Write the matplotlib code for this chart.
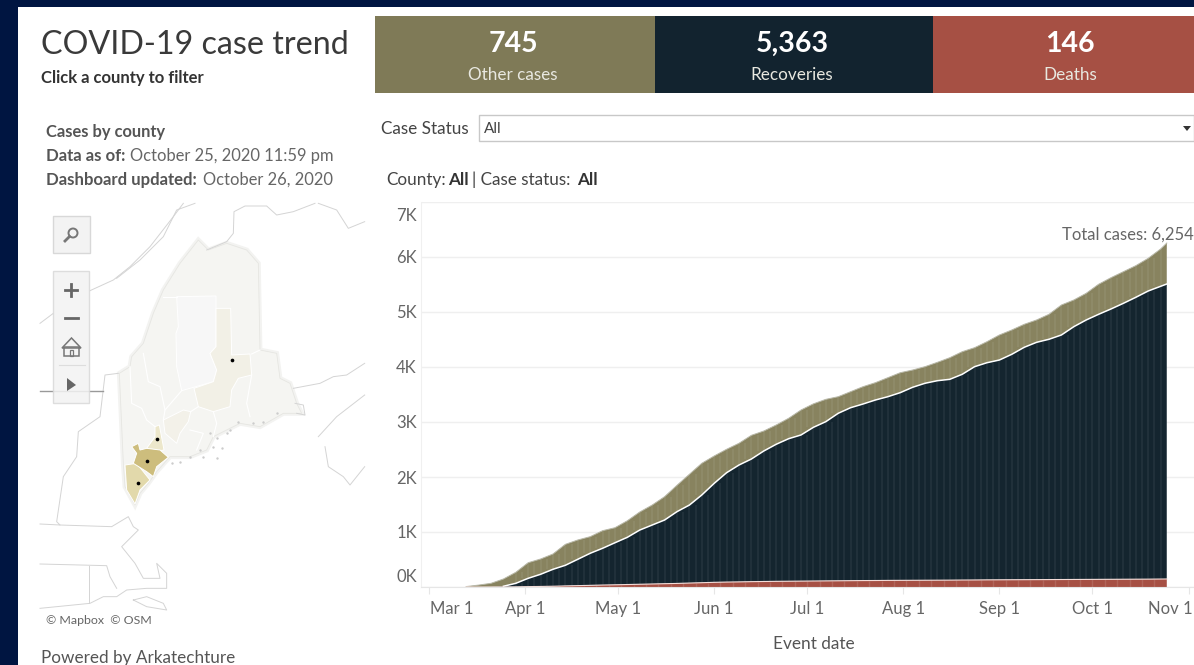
import numpy as np
import pandas as pd
import matplotlib
matplotlib.use("Agg")
import matplotlib.pyplot as plt
import matplotlib.dates as mdates
from matplotlib.patches import Rectangle, Polygon, Circle
from matplotlib.transforms import ScaledTranslation

plt.rcParams['font.family'] = ['Lato', 'DejaVu Sans']

W, H = 1194, 665

# values, one reading every 4 days plus the last day
event_dates = list(pd.date_range('2020-03-13', '2020-10-23', freq='4D')) + [pd.Timestamp('2020-10-25')]
total_cases = [8, 35, 67, 145, 267, 442, 509, 600, 776, 855, 915, 1024, 1078, 1205, 1364, 1490,
               1642, 1849, 2049, 2249, 2382, 2504, 2613, 2758, 2836, 2945, 3067, 3218, 3330, 3412,
               3460, 3551, 3642, 3715, 3805, 3896, 3945, 4006, 4085, 4169, 4278, 4351, 4460, 4582,
               4673, 4776, 4855, 4958, 5127, 5218, 5340, 5504, 5624, 5733, 5842, 5976, 6145, 6254]
recov_plus_deaths = [0, 0, 2, 13, 67, 158, 231, 322, 395, 504, 613, 704, 805, 904, 1036, 1127,
                     1218, 1370, 1490, 1673, 1885, 2078, 2218, 2327, 2473, 2595, 2696, 2764, 2903, 3006,
                     3158, 3260, 3327, 3400, 3460, 3533, 3631, 3704, 3751, 3776, 3867, 4006, 4078, 4127,
                     4231, 4358, 4449, 4504, 4582, 4733, 4855, 4958, 5055, 5158, 5267, 5382, 5467, 5509]
deaths = [0, 0, 0, 1, 3, 7, 10, 14, 20, 25, 30, 36, 40, 45, 50, 55,
          60, 65, 72, 78, 85, 90, 93, 97, 100, 103, 105, 107, 109, 111,
          113, 115, 117, 118, 120, 121, 122, 123, 124, 125, 127, 128, 130, 131,
          132, 133, 134, 135, 136, 137, 138, 139, 140, 141, 142, 143, 145, 146]

y_ticks = [0, 1000, 2000, 3000, 4000, 5000, 6000, 7000]
y_labels = ['0K', '1K', '2K', '3K', '4K', '5K', '6K', '7K']
x_ticks = ['2020-03-01', '2020-04-01', '2020-05-01', '2020-06-01', '2020-07-01',
           '2020-08-01', '2020-09-01', '2020-10-01', '2020-11-01']
x_labels = ['Mar 1', 'Apr 1', 'May 1', 'Jun 1', 'Jul 1', 'Aug 1', 'Sep 1', 'Oct 1', 'Nov 1']

kpi_values = ['745', '5,363', '146']
kpi_names = ['Other cases', 'Recoveries', 'Deaths']

# map shapes, in pixels of a 3x crop that starts at (0, 200)
maine = [(405, 915), (375, 860), (370, 790), (358, 520), (390, 500), (395, 470), (430, 430), (460, 340),
         (490, 270), (540, 190), (595, 120), (625, 150), (680, 130), (740, 150), (775, 190), (780, 450),
         (830, 460), (840, 535), (870, 550), (890, 610), (905, 640), (850, 640), (780, 680), (720, 670),
         (640, 710), (620, 750), (570, 770), (510, 770), (470, 815), (445, 850), (420, 880)]
counties = [
    ([(530, 290), (648, 288), (648, 440), (630, 460), (650, 510), (640, 545), (545, 572), (530, 500),
      (528, 400), (535, 380)], '#f7f7f7'),
    ([(648, 325), (692, 325), (695, 465), (750, 462), (755, 525), (715, 535), (695, 570), (690, 620),
      (640, 635), (595, 620), (582, 565), (640, 545), (650, 510), (630, 460), (648, 440)], '#f2f0e6'),
    ([(490, 660), (550, 630), (572, 635), (565, 665), (540, 700), (530, 730), (495, 700)], '#f3f1e9'),
    ([(465, 680), (478, 675), (492, 750), (480, 752), (440, 745), (465, 710)], '#ece7cb'),
    ([(375, 795), (410, 790), (450, 840), (420, 870), (405, 912), (380, 870)], '#e2d9ab'),
    ([(395, 740), (415, 730), (420, 750), (440, 745), (480, 750), (505, 772), (470, 800), (460, 830),
      (440, 815), (400, 790), (410, 760)], '#cdbd7d'),
]
county_lines = [
    [(430, 460), (445, 545), (480, 560), (495, 630), (490, 660)],
    [(390, 500), (395, 610), (425, 625), (440, 660), (465, 680)],
    [(495, 630), (545, 572)],
    [(572, 635), (595, 620)],
    [(640, 635), (650, 670), (640, 710)],
    [(755, 525), (740, 610), (750, 650)],
    [(570, 690), (610, 700), (590, 750)],
    [(490, 290), (530, 290)],
    [(780, 450), (755, 462)],
]
border_lines = [
    [(620, 150), (680, 125), (700, 100), (702, 35), (735, 18), (800, 18), (830, 45), (880, 35), (945, 10)],
    [(955, 10), (1010, 30), (1045, 85), (1094, 65)],
    [(120, 370), (160, 340)],
    [(270, 272), (340, 240), (390, 200), (450, 140), (520, 50), (550, 10)],
    [(350, 235), (420, 180), (490, 110), (530, 30), (585, 10)],
    [(355, 520), (315, 525), (300, 650), (235, 695), (230, 770), (190, 830), (170, 965), (180, 975), (120, 972)],
    [(180, 975), (335, 980), (385, 950), (400, 980), (415, 990), (365, 1040), (405, 1090), (430, 1135),
     (480, 1135), (470, 1090), (500, 1120), (500, 1165), (440, 1165), (380, 1170), (350, 1190), (310, 1190),
     (270, 1210), (120, 1225)],
    [(120, 1092), (320, 1097), (330, 1130), (350, 1165)],
    [(268, 1097), (268, 1210)],
    [(400, 1200), (440, 1190), (490, 1210), (500, 1230), (440, 1220), (400, 1200)],
    [(880, 565), (960, 550), (1000, 530), (1040, 525), (1094, 490)],
    [(955, 710), (1010, 650), (1094, 585)],
    [(975, 740), (985, 800), (1030, 830), (1050, 855), (1094, 800)],
    [(885, 610), (910, 615), (915, 645), (890, 640)],
]
vermont_line = [(120, 572), (310, 572)]
county_dots = [(470, 718), (442, 782), (414, 850), (696, 481)]
islands = [(630, 700), (650, 715), (680, 700), (715, 665), (690, 690), (640, 740), (665, 745), (600, 750),
           (570, 770), (540, 785), (515, 790), (610, 770), (650, 775), (760, 670), (790, 665), (830, 640)]


def mp(points):
    return [(x / 3, 200 + y / 3) for x, y in points]


fig = plt.figure(figsize=(W / 100, H / 100), dpi=100, facecolor='#001541')

# everything around the chart sits on one axes in pixel coordinates
bg = fig.add_axes([0, 0, 1, 1])
bg.set_xlim(0, W)
bg.set_ylim(H, 0)
bg.axis('off')
bg.add_patch(Rectangle((18, 7), W - 18, H - 7, fc='white', ec='none'))

for (x0, x1), c, mid, val, name in zip([(375, 655), (655, 933), (933, W)], ['#7f7a57', '#12232f', '#a65044'],
                                       [513, 792, 1070], kpi_values, kpi_names):
    bg.add_patch(Rectangle((x0, 16), x1 - x0, 77, fc=c, ec='none'))
    bg.text(mid, 44, val, color='white', fontsize=20.5, weight='bold', ha='center', va='center')
    bg.text(mid, 75, name, color='#e8e8e0', fontsize=12.3, ha='center', va='center')

bg.text(41, 45, 'COVID-19 case trend', color='#3a3a3a', fontsize=23.2, va='center')
bg.text(41, 78, 'Click a county to filter', color='#333333', fontsize=12, weight='bold', va='center')
bg.text(46, 132, 'Cases by county', color='#555555', fontsize=11.9, weight='bold', va='center')
bg.text(46, 156, 'Data as of:', color='#555555', fontsize=12.1, weight='bold', va='center')
bg.text(130, 156, 'October 25, 2020 11:59 pm', color='#666666', fontsize=11.9, va='center')
bg.text(46, 180, 'Dashboard updated:', color='#555555', fontsize=12.1, weight='bold', va='center')
bg.text(203, 180, 'October 26, 2020', color='#666666', fontsize=11.9, va='center')
bg.text(41, 658, 'Powered by Arkatechture', color='#555555', fontsize=12.3, va='center')

bg.text(381, 129, 'Case Status', color='#444444', fontsize=12.3, va='center')
bg.add_patch(Rectangle((479, 115), W - 479, 26, fc='white', ec='#c8c8c8', lw=1))
bg.text(484, 129, 'All', color='#444444', fontsize=11, va='center')
bg.add_patch(Polygon([(1183, 126), (1191, 126), (1187, 131)], fc='#333333', ec='none'))
bg.text(386, 180, 'County:', color='#444444', fontsize=12.3, va='center')
bg.text(448, 180, 'All', color='#333333', fontsize=12.3, weight='bold', va='center')
bg.text(472, 180, '| Case status:', color='#444444', fontsize=12.3, va='center')
bg.text(577, 180, 'All', color='#333333', fontsize=12.3, weight='bold', va='center')

# map
for line in border_lines:
    xy = np.array(mp(line))
    bg.plot(xy[:, 0], xy[:, 1], color='#d4d4d4', lw=0.7)
xy = np.array(mp(vermont_line))
bg.plot(xy[:, 0], xy[:, 1], color='#999999', lw=1)
bg.add_patch(Polygon(mp(maine), fc='none', ec='#f3f3f1', lw=3.5))
bg.add_patch(Polygon(mp(maine), fc='#f5f5f2', ec='#e6e6e2', lw=0.6))
for shape, c in counties:
    bg.add_patch(Polygon(mp(shape), fc=c, ec='white', lw=0.7))
for line in county_lines:
    xy = np.array(mp(line))
    bg.plot(xy[:, 0], xy[:, 1], color='white', lw=0.8)
xy = np.array(mp(islands))
bg.scatter(xy[:, 0], xy[:, 1], s=3, color='#cccccc', lw=0)
xy = np.array(mp(county_dots))
bg.scatter(xy[:, 0], xy[:, 1], s=7, color='black', lw=0, zorder=5)

# map controls
bg.add_patch(Rectangle((53, 216), 37, 37, fc='#f3f3f3', ec='#d8d8d8', lw=1, zorder=6))
bg.add_patch(Circle((73, 233), 4.5, fc='none', ec='#777777', lw=1.4, zorder=7))
bg.plot([69.5, 65], [236.5, 241], color='#777777', lw=2, zorder=7)
bg.add_patch(Rectangle((53, 271), 36, 132, fc='#f3f3f3', ec='#d8d8d8', lw=1, alpha=0.85, zorder=6))
bg.plot([71, 71], [284, 296], color='#666666', lw=2, zorder=7)
bg.plot([65, 77], [290, 290], color='#666666', lw=2, zorder=7)
bg.plot([65, 78], [318, 318], color='#666666', lw=2, zorder=7)
bg.add_patch(Polygon([(62, 348), (71.5, 338), (81, 348)], fc='none', ec='#777777', lw=1.1, zorder=7))
bg.add_patch(Rectangle((64, 347), 15, 9, fc='none', ec='#777777', lw=1.1, zorder=7))
bg.add_patch(Rectangle((70, 350), 3, 6, fc='none', ec='#777777', lw=0.9, zorder=7))
bg.plot([59, 85], [365, 365], color='#dddddd', lw=0.8, zorder=7)
bg.add_patch(Polygon([(67, 378), (67, 391), (76, 385)], fc='#666666', ec='none', zorder=7))
bg.text(46, 621, '© Mapbox  © OSM', color='#666666', fontsize=8.9, va='center')

# chart
px_per_day = 3.1
left, right, top, base = 421, W, 202, 587
ax = fig.add_axes([left / W, 1 - base / H, (right - left) / W, (base - top) / H])
ax.patch.set_alpha(0)
mar1 = mdates.date2num(pd.Timestamp('2020-03-01'))
ax.set_xlim(mar1 - (429 - left) / px_per_day, mar1 + (right - 429) / px_per_day)
ax.set_ylim(0, 7000)

dates = mdates.date2num(event_dates)
total = np.array(total_cases)
upper = np.array(recov_plus_deaths)
dead = np.array(deaths)

ax.grid(axis='y', color='#efefef', lw=1)
ax.set_axisbelow(True)
ax.stackplot(dates, dead, upper - dead, total - upper, colors=['#a65044', '#14252f', '#88835f'], lw=0)
# faint bar edges, kept inside the stacked bands
ax.vlines(dates[4:-1], upper[4:-1], total[4:-1], color='white', alpha=0.08, lw=1.1)
ax.vlines(dates[4:-1] + 2, upper[5:], total[4:-1], color='white', alpha=0.08, lw=1.1)
ax.vlines(dates[4:-1], dead[4:-1], upper[4:-1], color='white', alpha=0.07, lw=1.1)
ax.vlines(dates[4:-1] + 2, dead[5:], upper[4:-1], color='white', alpha=0.07, lw=1.1)
ax.vlines(dates[4:-1] + 2, 0, dead[4:-1], color='white', alpha=0.12, lw=1)
ax.plot(dates, total, color='#b8b8a8', lw=0.7)
ax.plot(dates[3:], upper[3:], color='white', lw=1.1)
ax.plot(dates, dead, color='#f3dcd8', lw=0.8)

ax.annotate('Total cases: 6,254', xy=(dates[-1], total[-1]), xytext=(-105, 8), textcoords='offset pixels',
            color='#666666', fontsize=12, va='center', ha='left', annotation_clip=False)

for s in ['top', 'right']:
    ax.spines[s].set_visible(False)
ax.spines['left'].set_color('#f0f0f0')
ax.spines['bottom'].set_color('#e6e6e6')

ax.set_yticks(y_ticks, y_labels)
ax.set_xticks(mdates.date2num(pd.to_datetime(x_ticks)), x_labels)
ax.tick_params(axis='y', length=0, pad=3, labelsize=12, labelcolor='#666666')
ax.tick_params(axis='x', length=5, width=0.8, color='#e6e6e6', pad=5, labelsize=12, labelcolor='#666666')
ax.set_xlabel('Event date', fontsize=12.4, color='#555555', va='center')
ax.xaxis.set_label_coords((814 - left) / (right - left), -(644 - base) / (base - top))


def nudge(label, dx, dy):
    label.set_transform(label.get_transform() + ScaledTranslation(dx / 100, dy / 100, fig.dpi_scale_trans))


y_tl = ax.get_yticklabels()
nudge(y_tl[0], 0, 12)
nudge(y_tl[-1], 0, -13)
x_tl = ax.get_xticklabels()
nudge(x_tl[0], 23, 0)
nudge(x_tl[-1], -18, 0)

fig.savefig('out.png', dpi=100, facecolor=fig.get_facecolor())
